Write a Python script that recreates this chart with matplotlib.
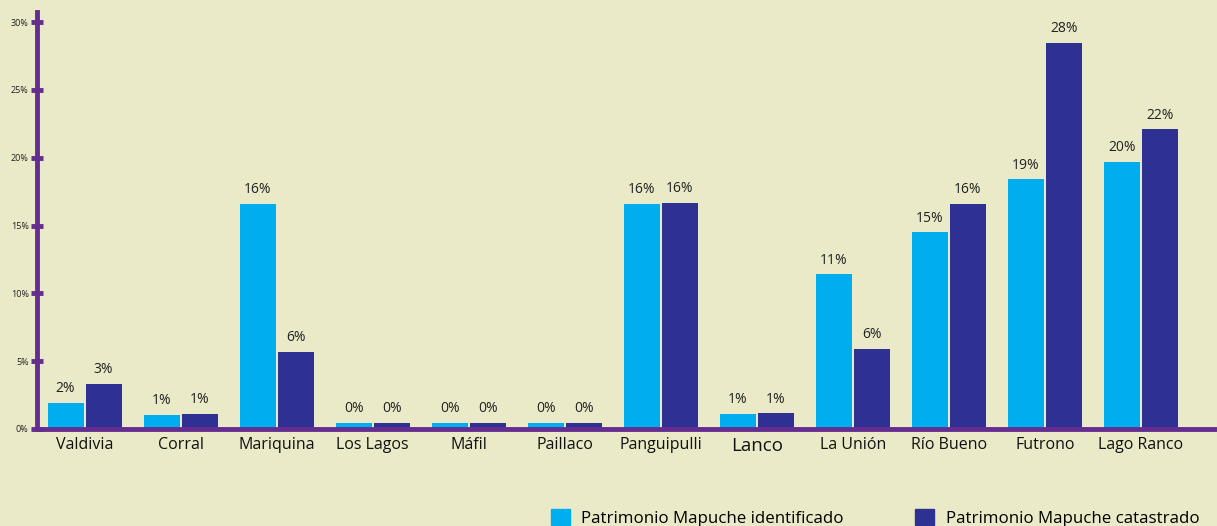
import numpy as np
import matplotlib.pyplot as plt
from matplotlib.patches import Patch

plt.rcParams['font.family'] = ['Open Sans', 'DejaVu Sans']

# data
comunas = ['Valdivia', 'Corral', 'Mariquina', 'Los Lagos', 'Máfil', 'Paillaco',
           'Panguipulli', 'Lanco', 'La Unión', 'Río Bueno', 'Futrono', 'Lago Ranco']
identificado = [1.9, 1.05, 16.6, 0.45, 0.45, 0.45, 16.6, 1.1, 11.4, 14.5, 18.4, 19.7]
catastrado = [3.3, 1.1, 5.7, 0.45, 0.45, 0.45, 16.7, 1.15, 5.9, 16.6, 28.5, 22.1]
lab_ident = ['2%', '1%', '16%', '0%', '0%', '0%', '16%', '1%', '11%', '15%', '19%', '20%']
lab_cat = ['3%', '1%', '6%', '0%', '0%', '0%', '16%', '1%', '6%', '16%', '28%', '22%']
yticks = [0, 5, 10, 15, 20, 25, 30]

bg = '#EAEAC8'
purple = '#662D91'
cyan = '#00AEEF'
navy = '#2E3192'

fig = plt.figure(figsize=(12.17, 5.26), dpi=100, facecolor=bg)
ax = fig.add_axes([37/1217, 1 - 429/526, (1215 - 37)/1217, (429 - 12)/526])
ax.set_facecolor(bg)

x = np.arange(len(comunas))
w = 0.375
b1 = ax.bar(x - w/2 - 0.01, identificado, w, color=cyan)
b2 = ax.bar(x + w/2 + 0.01, catastrado, w, color=navy)

for bars, labs in ((b1, lab_ident), (b2, lab_cat)):
    for r, t in zip(bars, labs):
        ax.text(r.get_x() + r.get_width()/2, r.get_height() + 0.5, t,
                ha='center', va='bottom', fontsize=10, color='#222222')

ax.set_xlim(-0.495, 11.77)
ax.set_ylim(0, 30.75)
ax.set_yticks(yticks)
ax.set_yticklabels([f'{v}%' for v in yticks], fontsize=6.5, color='#222222')
ax.set_xticks(x)
ax.set_xticklabels(comunas, fontsize=11.5, color='#111111')
for lbl in ax.get_xticklabels():
    if lbl.get_text() == 'Lanco':
        lbl.set_fontsize(13.5)

for s in ('top', 'right'):
    ax.spines[s].set_visible(False)
for s in ('left', 'bottom'):
    ax.spines[s].set_color(purple)
    ax.spines[s].set_linewidth(3.5)
ax.tick_params(axis='y', direction='inout', length=8, width=3.5, color=purple, pad=2)
ax.tick_params(axis='x', length=0, pad=6)

handles = [Patch(facecolor=cyan, edgecolor=cyan, label='Patrimonio Mapuche identificado'),
           Patch(facecolor=navy, edgecolor=navy, label='Patrimonio Mapuche catastrado')]
fig.legend(handles=handles, loc='center', bbox_to_anchor=(0.719, 0.015), ncol=2,
           frameon=False, fontsize=12.2, handlelength=1.1, handleheight=1.1,
           columnspacing=4.2, handletextpad=0.7)

fig.savefig('out.png', dpi=100, facecolor=bg)
